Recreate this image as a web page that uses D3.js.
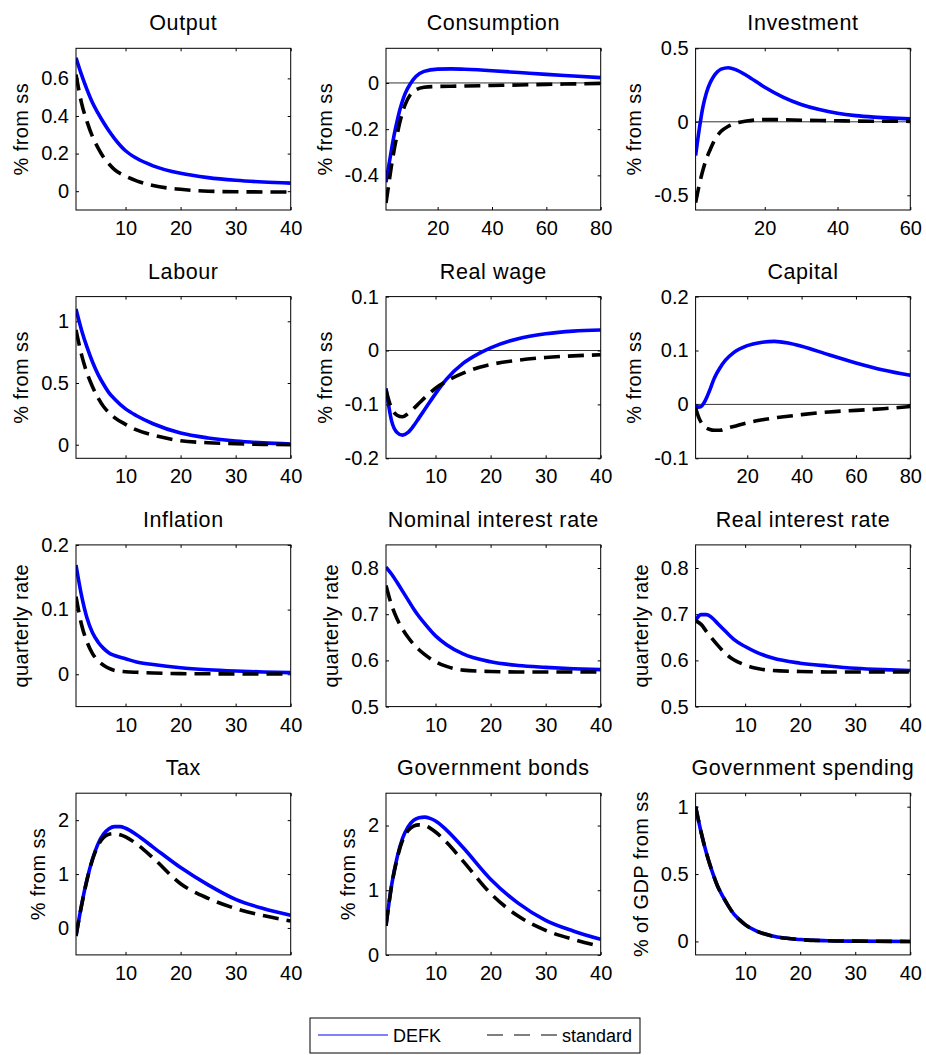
<!DOCTYPE html>
<html>
<head>
<meta charset="utf-8">
<script src="https://cdn.jsdelivr.net/npm/d3@7"></script>
<style>
  body { margin: 0; background: #fff; }
  svg text { font-family: "Liberation Sans", Arial, sans-serif; fill: #000; }
</style>
</head>
<body>
<svg id="chart"></svg>
<script>
'use strict'

// panel titles and y labels
const titles = ['Output', 'Consumption', 'Investment', 'Labour', 'Real wage', 'Capital',
  'Inflation', 'Nominal interest rate', 'Real interest rate', 'Tax', 'Government bonds', 'Government spending']
const yLabels = ['% from ss', '% from ss', '% from ss', '% from ss', '% from ss', '% from ss',
  'quarterly rate', 'quarterly rate', 'quarterly rate', '% from ss', '% from ss', '% of GDP from ss']
const seriesNames = ['DEFK', 'standard']

// periods (quarters)
const tOutput = [1, 2, 3, 4, 5, 6, 7, 8, 10, 12, 15, 20, 25, 30, 35, 40]
const tConsumption = [1, 2, 3, 4, 5, 6, 7, 8, 10, 12, 15, 20, 25, 30, 40, 50, 60, 70, 80]
const tInvestment = [1, 2, 3, 4, 5, 6, 7, 8, 10, 12, 15, 20, 25, 30, 35, 40, 45, 50, 55, 60]
const tLabour = [1, 2, 3, 4, 5, 6, 7, 8, 10, 12, 15, 20, 25, 30, 35, 40]
const tWage = [1, 2, 3, 4, 5, 6, 7, 8, 10, 12, 15, 18, 20, 25, 30, 35, 40]
const tCapital = [1, 2, 3, 4, 5, 6, 8, 10, 12, 15, 20, 25, 30, 35, 40, 50, 60, 70, 80]
const tRates = [1, 2, 3, 4, 5, 6, 7, 8, 10, 12, 15, 20, 25, 30, 35, 40]
const tFiscal = [1, 2, 3, 4, 5, 6, 7, 8, 9, 10, 12, 15, 20, 25, 30, 35, 40]
const tSpending = [1, 2, 3, 4, 5, 6, 7, 8, 9, 10, 12, 15, 20, 25, 30, 40]

// DEFK (blue) and standard (black dashed) responses
const outputDEFK = [0.71, 0.62, 0.54, 0.47, 0.415, 0.365, 0.32, 0.28, 0.215, 0.175, 0.135, 0.095, 0.072, 0.058, 0.049, 0.043]
const outputStd = [0.62, 0.47, 0.37, 0.29, 0.23, 0.18, 0.145, 0.115, 0.08, 0.055, 0.03, 0.01, 0.0, -0.003, -0.004, -0.004]
const consDEFK = [-0.43, -0.36, -0.29, -0.225, -0.17, -0.12, -0.08, -0.047, -0.003, 0.028, 0.05, 0.06, 0.061, 0.059, 0.053, 0.045, 0.037, 0.03, 0.023]
const consStd = [-0.52, -0.44, -0.36, -0.29, -0.23, -0.175, -0.13, -0.095, -0.05, -0.03, -0.019, -0.015, -0.014, -0.013, -0.011, -0.009, -0.006, -0.004, -0.002]
const invDEFK = [-0.23, -0.05, 0.1, 0.2, 0.265, 0.31, 0.34, 0.358, 0.368, 0.355, 0.315, 0.235, 0.168, 0.118, 0.083, 0.058, 0.042, 0.032, 0.025, 0.02]
const invStd = [-0.55, -0.43, -0.33, -0.25, -0.19, -0.135, -0.095, -0.065, -0.03, -0.01, 0.005, 0.015, 0.014, 0.011, 0.009, 0.007, 0.005, 0.004, 0.004, 0.003]
const labourDEFK = [1.10, 0.93, 0.79, 0.67, 0.57, 0.49, 0.42, 0.37, 0.29, 0.235, 0.17, 0.095, 0.055, 0.03, 0.015, 0.006]
const labourStd = [0.93, 0.73, 0.58, 0.47, 0.38, 0.31, 0.26, 0.22, 0.165, 0.12, 0.078, 0.032, 0.016, 0.008, 0.003, 0.001]
const wageDEFK = [-0.07, -0.13, -0.152, -0.157, -0.152, -0.14, -0.125, -0.11, -0.08, -0.053, -0.024, -0.005, 0.005, 0.022, 0.031, 0.036, 0.038]
const wageStd = [-0.073, -0.107, -0.12, -0.123, -0.117, -0.108, -0.098, -0.088, -0.07, -0.057, -0.042, -0.031, -0.026, -0.018, -0.013, -0.01, -0.008]
const capitalDEFK = [-0.003, -0.005, -0.004, 0.002, 0.012, 0.024, 0.05, 0.068, 0.082, 0.096, 0.109, 0.115, 0.117, 0.114, 0.108, 0.092, 0.077, 0.064, 0.054]
const capitalStd = [-0.006, -0.022, -0.033, -0.04, -0.044, -0.046, -0.048, -0.048, -0.045, -0.041, -0.034, -0.029, -0.025, -0.022, -0.019, -0.014, -0.011, -0.008, -0.004]
const inflDEFK = [0.169, 0.122, 0.087, 0.064, 0.05, 0.04, 0.033, 0.029, 0.024, 0.019, 0.015, 0.01, 0.007, 0.005, 0.0035, 0.0025]
const inflStd = [0.12, 0.077, 0.05, 0.032, 0.021, 0.014, 0.009, 0.006, 0.004, 0.003, 0.002, 0.001, 0.0007, 0.0005, 0.0004, 0.0003]
const nomDEFK = [0.802, 0.787, 0.769, 0.75, 0.731, 0.712, 0.695, 0.68, 0.653, 0.634, 0.614, 0.597, 0.589, 0.585, 0.582, 0.58]
const nomStd = [0.762, 0.72, 0.69, 0.668, 0.65, 0.635, 0.623, 0.613, 0.597, 0.587, 0.579, 0.576, 0.575, 0.575, 0.575, 0.575]
const realDEFK = [0.687, 0.699, 0.699, 0.692, 0.68, 0.668, 0.656, 0.645, 0.63, 0.618, 0.605, 0.594, 0.588, 0.583, 0.58, 0.578]
const realStd = [0.686, 0.678, 0.662, 0.647, 0.633, 0.62, 0.609, 0.601, 0.59, 0.583, 0.578, 0.576, 0.575, 0.575, 0.575, 0.575]
const taxDEFK = [-0.15, 0.42, 0.9, 1.28, 1.56, 1.74, 1.84, 1.88, 1.88, 1.85, 1.73, 1.5, 1.12, 0.8, 0.53, 0.36, 0.235]
const taxStd = [-0.15, 0.41, 0.89, 1.27, 1.53, 1.68, 1.74, 1.75, 1.73, 1.69, 1.56, 1.3, 0.82, 0.55, 0.36, 0.23, 0.13]
const bondsDEFK = [0.45, 1.07, 1.5, 1.8, 1.98, 2.08, 2.12, 2.13, 2.11, 2.07, 1.93, 1.66, 1.17, 0.8, 0.535, 0.37, 0.24]
const bondsStd = [0.45, 1.06, 1.48, 1.77, 1.92, 1.99, 2.01, 2.0, 1.96, 1.9, 1.74, 1.45, 0.95, 0.6, 0.38, 0.24, 0.13]
const spendDEFK = [1, 0.81, 0.65, 0.52, 0.41, 0.33, 0.26, 0.2, 0.16, 0.125, 0.078, 0.04, 0.014, 0.005, 0.002, 0]
const spendStd = [1, 0.81, 0.65, 0.52, 0.41, 0.33, 0.26, 0.2, 0.16, 0.125, 0.078, 0.04, 0.014, 0.005, 0.002, 0]

// axis limits and ticks
const xMax = [40, 80, 60, 40, 40, 80, 40, 40, 40, 40, 40, 40]
const xTicks = [[10, 20, 30, 40], [20, 40, 60, 80], [20, 40, 60], [10, 20, 30, 40], [10, 20, 30, 40], [20, 40, 60, 80],
  [10, 20, 30, 40], [10, 20, 30, 40], [10, 20, 30, 40], [10, 20, 30, 40], [10, 20, 30, 40], [10, 20, 30, 40]]
const yDomains = [[-0.1, 0.76], [-0.55, 0.15], [-0.6, 0.5], [-0.11, 1.2], [-0.2, 0.1], [-0.1, 0.2],
  [-0.05, 0.2], [0.5, 0.85], [0.5, 0.85], [-0.5, 2.5], [0, 2.5], [-0.1, 1.1]]
const yTicks = [[0, 0.2, 0.4, 0.6], [-0.4, -0.2, 0], [-0.5, 0, 0.5], [0, 0.5, 1], [-0.2, -0.1, 0, 0.1], [-0.1, 0, 0.1, 0.2],
  [0, 0.1, 0.2], [0.5, 0.6, 0.7, 0.8], [0.5, 0.6, 0.7, 0.8], [0, 1, 2], [0, 1, 2], [0, 0.5, 1]]
const zeroLine = [false, true, true, false, true, true, false, false, false, false, false, false]

const periods = [tOutput, tConsumption, tInvestment, tLabour, tWage, tCapital, tRates, tRates, tRates, tFiscal, tFiscal, tSpending]
const defk = [outputDEFK, consDEFK, invDEFK, labourDEFK, wageDEFK, capitalDEFK, inflDEFK, nomDEFK, realDEFK, taxDEFK, bondsDEFK, spendDEFK]
const standard = [outputStd, consStd, invStd, labourStd, wageStd, capitalStd, inflStd, nomStd, realStd, taxStd, bondsStd, spendStd]

const width = 926, height = 1055
const fontSize = 20
const plotW = 214.7, plotH = 161.7
const colLeft = [76, 386, 695.6]
const rowTop = [48.3, 296.6, 544.9, 793.2]
const blue = '#0000ff'
const dash = '16,8'

const svg = d3.select('#chart')
  .attr('width', width)
  .attr('height', height)
svg.append('rect').attr('width', width).attr('height', height).attr('fill', '#fff')

const fmt = (d) => String(+d.toFixed(3))

titles.forEach((title, i) => {
  const left = colLeft[i % 3], top = rowTop[Math.floor(i / 3)]
  const g = svg.append('g').attr('transform', 'translate(' + left + ',' + top + ')')

  const x = d3.scaleLinear().domain([1, xMax[i]]).range([0, plotW])
  const y = d3.scaleLinear().domain(yDomains[i]).range([plotH, 0])

  // clip lines to the axes box
  g.append('clipPath').attr('id', 'clip' + i)
    .append('rect').attr('width', plotW).attr('height', plotH)

  // axes: ticks point inwards, mirrored on top and right
  g.append('g').attr('class', 'x-axis')
    .attr('transform', 'translate(0,' + plotH + ')')
    .call(d3.axisBottom(x).tickValues(xTicks[i]).tickFormat(fmt).tickSizeInner(-3).tickSizeOuter(0).tickPadding(11))
  g.append('g')
    .call(d3.axisTop(x).tickValues(xTicks[i]).tickFormat('').tickSizeInner(-3).tickSizeOuter(0))
  const yAxis = g.append('g').attr('class', 'y-axis')
    .call(d3.axisLeft(y).tickValues(yTicks[i]).tickFormat(fmt).tickSizeInner(-3).tickSizeOuter(0).tickPadding(7))
  g.append('g').attr('transform', 'translate(' + plotW + ',0)')
    .call(d3.axisRight(y).tickValues(yTicks[i]).tickFormat('').tickSizeInner(-3).tickSizeOuter(0))

  g.selectAll('.domain').remove()
  g.selectAll('.tick line').attr('stroke', '#000')
  g.selectAll('.tick text').style('font-size', fontSize + 'px')

  if (zeroLine[i]) {
    g.append('line')
      .attr('x1', 0).attr('x2', plotW)
      .attr('y1', y(0)).attr('y2', y(0))
      .attr('stroke', '#000').attr('stroke-width', 0.8)
  }

  const line = d3.line()
    .x((d) => x(d[0]))
    .y((d) => y(d[1]))
    .curve(d3.curveMonotoneX)

  const plot = g.append('g').attr('clip-path', 'url(#clip' + i + ')')
  plot.append('path')
    .datum(periods[i].map((t, k) => [t, defk[i][k]]))
    .attr('d', line)
    .attr('fill', 'none')
    .attr('stroke', blue)
    .attr('stroke-width', 3.6)
  plot.append('path')
    .datum(periods[i].map((t, k) => [t, standard[i][k]]))
    .attr('d', line)
    .attr('fill', 'none')
    .attr('stroke', '#000')
    .attr('stroke-width', 3.6)
    .attr('stroke-dasharray', dash)

  // box
  g.append('rect')
    .attr('width', plotW).attr('height', plotH)
    .attr('fill', 'none').attr('stroke', '#000').attr('stroke-width', 1)

  // title
  g.append('text')
    .attr('x', plotW / 2).attr('y', -18)
    .attr('text-anchor', 'middle')
    .style('font-size', '21.5px')
    .style('letter-spacing', '0.6px')
    .text(title)

  // y label sits left of the widest tick label
  const tickLeft = d3.min(yAxis.selectAll('.tick text').nodes(), (n) => n.getBBox().x)
  g.append('text')
    .attr('transform', 'translate(' + (tickLeft - 13) + ',' + (plotH / 2) + ') rotate(-90)')
    .attr('text-anchor', 'middle')
    .style('font-size', fontSize + 'px')
    .style('letter-spacing', '0.4px')
    .text(yLabels[i])
})

// legend: two entries, each a line sample and its text (legend font a bit smaller)
const legend = svg.append('g').attr('transform', 'translate(310,1018)')
legend.append('rect')
  .attr('width', 330).attr('height', 35)
  .attr('fill', '#fff').attr('stroke', '#000').attr('stroke-width', 1)
const entryW = 169
seriesNames.forEach((name, k) => {
  const e = legend.append('g').attr('transform', 'translate(' + (k * entryW) + ',0)')
  e.append('line')
    .attr('x1', 8).attr('x2', 78).attr('y1', 17).attr('y2', 17)
    .attr('stroke', k === 0 ? blue : '#000').attr('stroke-width', 1)
    .attr('stroke-dasharray', k === 0 ? null : '16,11')
  e.append('text')
    .attr('x', 83).attr('y', 23.5)
    .style('font-size', '18px')
    .text(name)
})
</script>
</body>
</html>
